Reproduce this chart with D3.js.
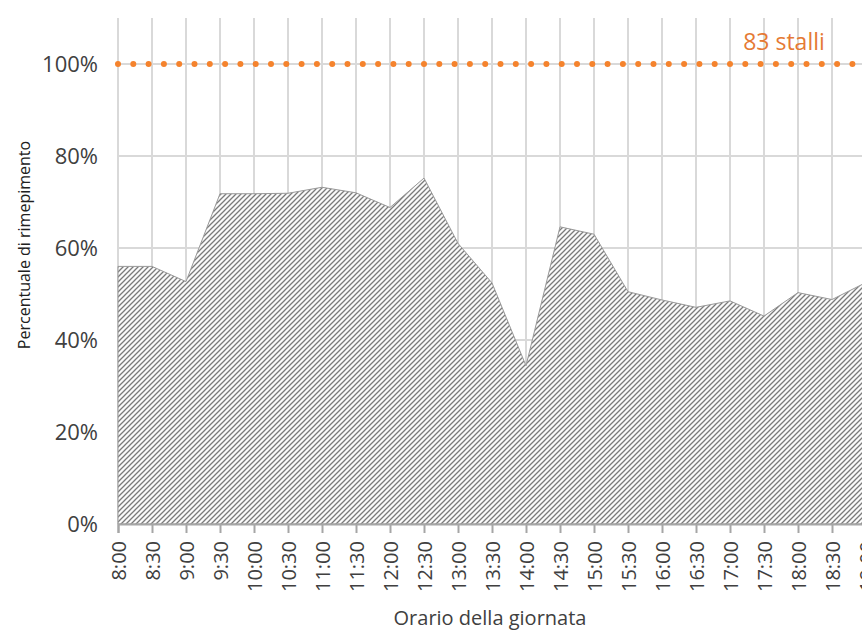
<!DOCTYPE html>
<html>
<head>
<meta charset="utf-8">
<script src="https://cdn.jsdelivr.net/npm/d3@7"></script>
<style>
  body { margin: 0; background: #fff; }
  text { font-family: "Open Sans", "Noto Sans", sans-serif; }
</style>
</head>
<body>
<svg id="chart" width="862" height="630"></svg>
<script>
// time slots along x
var times = ["8:00","8:30","9:00","9:30","10:00","10:30","11:00","11:30","12:00","12:30",
             "13:00","13:30","14:00","14:30","15:00","15:30","16:00","16:30","17:00","17:30",
             "18:00","18:30","19:00"];
// occupancy in percent
var occupancy = [56, 56, 52.7, 71.8, 71.8, 71.9, 73.2, 72, 68.8, 75.2,
                 61, 52.4, 34.4, 64.6, 63, 50.5, 48.7, 47.1, 48.5, 45.2,
                 50.3, 48.8, 52.5];
var capacity = 100;          // 83 stalli = 100%
var capacityLabel = "83 stalli";
var yTicks = [0, 20, 40, 60, 80, 100];

var svg = d3.select("#chart");

var x = d3.scalePoint()
  .domain(times)
  .range([118, 866]);

var y = d3.scaleLinear()
  .domain([0, 110])
  .range([524, 18]);

// hatch pattern
var defs = svg.append("defs");
var pat = defs.append("pattern")
  .attr("id", "hatch")
  .attr("patternUnits", "userSpaceOnUse")
  .attr("width", 5)
  .attr("height", 5);
pat.append("rect").attr("width", 5).attr("height", 5).attr("fill", "#fafafa");
pat.append("path")
  .attr("d", "M-1,1 L1,-1 M0,5 L5,0 M4,6 L6,4")
  .attr("stroke", "#7a7a7a")
  .attr("stroke-width", 1.3);

// gridlines
svg.append("g")
  .selectAll("line.h")
  .data(yTicks.slice(1))
  .enter().append("line")
  .attr("x1", 118).attr("x2", 862)
  .attr("y1", function (d) { return y(d); })
  .attr("y2", function (d) { return y(d); })
  .attr("stroke", "#d9d9d9")
  .attr("stroke-width", 2);

svg.append("g")
  .selectAll("line.v")
  .data(times)
  .enter().append("line")
  .attr("x1", function (d) { return x(d); })
  .attr("x2", function (d) { return x(d); })
  .attr("y1", y(110)).attr("y2", y(0))
  .attr("stroke", "#d9d9d9")
  .attr("stroke-width", 2);

// area
var area = d3.area()
  .x(function (d, i) { return x(times[i]); })
  .y0(y(0))
  .y1(function (d) { return y(d); });

svg.append("path")
  .datum(occupancy)
  .attr("d", area)
  .attr("fill", "url(#hatch)")
  .attr("stroke", "#999")
  .attr("stroke-width", 1);

// capacity dotted line
svg.append("line")
  .attr("x1", x(times[0])).attr("x2", x(times[times.length - 1]))
  .attr("y1", y(capacity)).attr("y2", y(capacity))
  .attr("stroke", "#f5832d")
  .attr("stroke-width", 6)
  .attr("stroke-linecap", "round")
  .attr("stroke-dasharray", "0 15.3");

svg.append("text")
  .attr("x", 784).attr("y", 50)
  .attr("text-anchor", "middle")
  .attr("font-size", 23)
  .attr("fill", "#e57a34")
  .text(capacityLabel);

// x axis
var xAxis = svg.append("g")
  .attr("transform", "translate(0," + y(0) + ")")
  .call(d3.axisBottom(x).tickSize(9).tickPadding(6));
xAxis.select(".domain").attr("stroke", "#a6a6a6").attr("stroke-width", 2);
xAxis.selectAll(".tick line").attr("stroke", "#a6a6a6").attr("stroke-width", 2);
xAxis.selectAll(".tick text")
  .attr("transform", "rotate(-90)")
  .attr("text-anchor", "end")
  .attr("x", -17).attr("y", 0).attr("dy", "0.35em")
  .attr("font-size", 20)
  .attr("fill", "#404040")
  .style("font-family", "'Open Sans', sans-serif");

// y axis labels
svg.append("g")
  .selectAll("text")
  .data(yTicks)
  .enter().append("text")
  .attr("x", 98)
  .attr("y", function (d) { return y(d); })
  .attr("dy", "0.35em")
  .attr("text-anchor", "end")
  .attr("font-size", 22)
  .attr("fill", "#404040")
  .text(function (d) { return d + "%"; });

// axis titles
svg.append("text")
  .attr("transform", "translate(30,245) rotate(-90)")
  .attr("text-anchor", "middle")
  .attr("font-size", 16)
  .attr("fill", "#202020")
  .text("Percentuale di rimepimento");

svg.append("text")
  .attr("x", 490).attr("y", 625)
  .attr("text-anchor", "middle")
  .attr("font-size", 20)
  .attr("fill", "#404040")
  .text("Orario della giornata");
</script>
</body>
</html>
